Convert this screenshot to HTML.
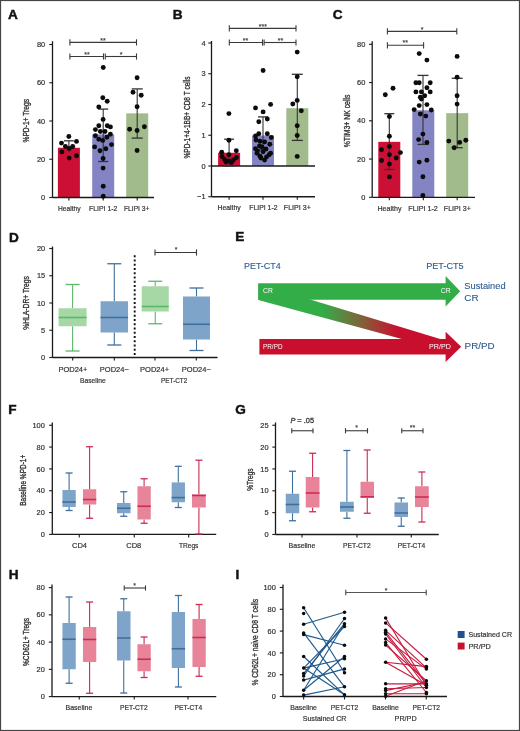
<!DOCTYPE html><html><head><meta charset="utf-8"><style>html,body{margin:0;padding:0;background:#fff;}svg{display:block;will-change:transform;filter:blur(0.3px);}</style></head><body>
<svg width="520" height="731" viewBox="0 0 520 731" font-family='"Liberation Sans", sans-serif'>
<rect x="0" y="0" width="520" height="731" fill="#fff"/>
<text x="8" y="18.8" font-size="13.6" font-weight="bold" fill="#111" stroke="#111" stroke-width="0.45">A</text>
<line x1="52.5" y1="41.2" x2="52.5" y2="197.5" stroke="#1a1a1a" stroke-width="1.3" />
<line x1="49.3" y1="197.5" x2="52.5" y2="197.5" stroke="#1a1a1a" stroke-width="1.1" />
<text x="45.2" y="200.1" font-size="7.4" text-anchor="end" fill="#333" font-weight="normal" stroke="#333" stroke-width="0.2" >0</text>
<line x1="49.3" y1="159.25" x2="52.5" y2="159.25" stroke="#1a1a1a" stroke-width="1.1" />
<text x="45.2" y="161.85" font-size="7.4" text-anchor="end" fill="#333" font-weight="normal" stroke="#333" stroke-width="0.2" >20</text>
<line x1="49.3" y1="121.0" x2="52.5" y2="121.0" stroke="#1a1a1a" stroke-width="1.1" />
<text x="45.2" y="123.6" font-size="7.4" text-anchor="end" fill="#333" font-weight="normal" stroke="#333" stroke-width="0.2" >40</text>
<line x1="49.3" y1="82.75" x2="52.5" y2="82.75" stroke="#1a1a1a" stroke-width="1.1" />
<text x="45.2" y="85.35" font-size="7.4" text-anchor="end" fill="#333" font-weight="normal" stroke="#333" stroke-width="0.2" >60</text>
<line x1="49.3" y1="44.5" x2="52.5" y2="44.5" stroke="#1a1a1a" stroke-width="1.1" />
<text x="45.2" y="47.1" font-size="7.4" text-anchor="end" fill="#333" font-weight="normal" stroke="#333" stroke-width="0.2" >80</text>
<rect x="57.900000000000006" y="147.775" width="22.00" height="49.72" fill="#cc0f35" />
<rect x="92.2" y="134.3875" width="22.00" height="63.11" fill="#8484c4" />
<rect x="126.19999999999999" y="113.35" width="22.00" height="84.15" fill="#a2bb8c" />
<line x1="52.5" y1="197.5" x2="154" y2="197.5" stroke="#1a1a1a" stroke-width="1.3" />
<line x1="68.9" y1="197.5" x2="68.9" y2="200.5" stroke="#1a1a1a" stroke-width="1.1" />
<line x1="103.2" y1="197.5" x2="103.2" y2="200.5" stroke="#1a1a1a" stroke-width="1.1" />
<line x1="137.2" y1="197.5" x2="137.2" y2="200.5" stroke="#1a1a1a" stroke-width="1.1" />
<line x1="68.9" y1="140.8" x2="68.9" y2="152" stroke="#333" stroke-width="1.1" />
<line x1="64" y1="140.8" x2="73.8" y2="140.8" stroke="#333" stroke-width="1.3" />
<line x1="103.2" y1="109.1" x2="103.2" y2="161.5" stroke="#333" stroke-width="1.1" />
<line x1="98.2" y1="109.1" x2="108.2" y2="109.1" stroke="#333" stroke-width="1.3" />
<line x1="98.2" y1="161.5" x2="108.2" y2="161.5" stroke="#333" stroke-width="1.3" />
<line x1="137.2" y1="88.9" x2="137.2" y2="138.1" stroke="#333" stroke-width="1.1" />
<line x1="131.7" y1="88.9" x2="142.7" y2="88.9" stroke="#333" stroke-width="1.3" />
<line x1="131.7" y1="138.1" x2="142.7" y2="138.1" stroke="#333" stroke-width="1.3" />
<circle cx="68.85" cy="136.5" r="2.45" fill="#0b0b0b"/>
<circle cx="61.5" cy="143.1" r="2.45" fill="#0b0b0b"/>
<circle cx="76.5" cy="141.4" r="2.45" fill="#0b0b0b"/>
<circle cx="65.4" cy="146.5" r="2.45" fill="#0b0b0b"/>
<circle cx="72.7" cy="146.5" r="2.45" fill="#0b0b0b"/>
<circle cx="69.2" cy="148.5" r="2.45" fill="#0b0b0b"/>
<circle cx="61.9" cy="151.9" r="2.45" fill="#0b0b0b"/>
<circle cx="76.5" cy="155.8" r="2.45" fill="#0b0b0b"/>
<circle cx="69.2" cy="158.1" r="2.45" fill="#0b0b0b"/>
<circle cx="103.25" cy="67.5" r="2.45" fill="#0b0b0b"/>
<circle cx="102.8" cy="97.8" r="2.45" fill="#0b0b0b"/>
<circle cx="107.2" cy="101.2" r="2.45" fill="#0b0b0b"/>
<circle cx="98.8" cy="106.9" r="2.45" fill="#0b0b0b"/>
<circle cx="103.1" cy="119.4" r="2.45" fill="#0b0b0b"/>
<circle cx="98.8" cy="125.8" r="2.45" fill="#0b0b0b"/>
<circle cx="107.3" cy="125.8" r="2.45" fill="#0b0b0b"/>
<circle cx="110.4" cy="126.9" r="2.45" fill="#0b0b0b"/>
<circle cx="95.4" cy="129.6" r="2.45" fill="#0b0b0b"/>
<circle cx="100.4" cy="131.5" r="2.45" fill="#0b0b0b"/>
<circle cx="105" cy="131.5" r="2.45" fill="#0b0b0b"/>
<circle cx="95.4" cy="135.8" r="2.45" fill="#0b0b0b"/>
<circle cx="110.4" cy="134.2" r="2.45" fill="#0b0b0b"/>
<circle cx="106.9" cy="137.3" r="2.45" fill="#0b0b0b"/>
<circle cx="98.8" cy="139.2" r="2.45" fill="#0b0b0b"/>
<circle cx="102.7" cy="140.4" r="2.45" fill="#0b0b0b"/>
<circle cx="111.5" cy="144.6" r="2.45" fill="#0b0b0b"/>
<circle cx="94.6" cy="146.9" r="2.45" fill="#0b0b0b"/>
<circle cx="105.8" cy="148.8" r="2.45" fill="#0b0b0b"/>
<circle cx="100" cy="150.8" r="2.45" fill="#0b0b0b"/>
<circle cx="103.1" cy="158.5" r="2.45" fill="#0b0b0b"/>
<circle cx="103.1" cy="168.1" r="2.45" fill="#0b0b0b"/>
<circle cx="103.25" cy="186.25" r="2.45" fill="#0b0b0b"/>
<circle cx="103.25" cy="196.25" r="2.45" fill="#0b0b0b"/>
<circle cx="137.1" cy="77.8" r="2.45" fill="#0b0b0b"/>
<circle cx="133" cy="92.2" r="2.45" fill="#0b0b0b"/>
<circle cx="141.2" cy="95.3" r="2.45" fill="#0b0b0b"/>
<circle cx="137.1" cy="106.7" r="2.45" fill="#0b0b0b"/>
<circle cx="129.6" cy="129.2" r="2.45" fill="#0b0b0b"/>
<circle cx="137.1" cy="130.5" r="2.45" fill="#0b0b0b"/>
<circle cx="144.4" cy="126.8" r="2.45" fill="#0b0b0b"/>
<circle cx="137.1" cy="150.5" r="2.45" fill="#0b0b0b"/>
<line x1="69.9" y1="42.4" x2="136.5" y2="42.4" stroke="#3a3a3a" stroke-width="1.1" />
<line x1="69.9" y1="39.3" x2="69.9" y2="45.5" stroke="#3a3a3a" stroke-width="1.1" />
<line x1="136.5" y1="39.3" x2="136.5" y2="45.5" stroke="#3a3a3a" stroke-width="1.1" />
<text x="103.1" y="42.9" font-size="7" text-anchor="middle" fill="#333" font-weight="normal" stroke="#333" stroke-width="0.1" >**</text>
<line x1="69.9" y1="56.5" x2="103.5" y2="56.5" stroke="#3a3a3a" stroke-width="1.1" />
<line x1="69.9" y1="53.4" x2="69.9" y2="59.6" stroke="#3a3a3a" stroke-width="1.1" />
<line x1="103.5" y1="53.4" x2="103.5" y2="59.6" stroke="#3a3a3a" stroke-width="1.1" />
<line x1="105.3" y1="56.5" x2="136.5" y2="56.5" stroke="#3a3a3a" stroke-width="1.1" />
<line x1="105.3" y1="53.4" x2="105.3" y2="59.6" stroke="#3a3a3a" stroke-width="1.1" />
<line x1="136.5" y1="53.4" x2="136.5" y2="59.6" stroke="#3a3a3a" stroke-width="1.1" />
<text x="86.9" y="56.5" font-size="7" text-anchor="middle" fill="#333" font-weight="normal" stroke="#333" stroke-width="0.1" >**</text>
<text x="121.2" y="56.7" font-size="7" text-anchor="middle" fill="#333" font-weight="normal" stroke="#333" stroke-width="0.1" >*</text>
<text x="69.3" y="210.9" font-size="7.4" text-anchor="middle" fill="#333" font-weight="normal" textLength="22.7" lengthAdjust="spacingAndGlyphs" stroke="#333" stroke-width="0.2" >Healthy</text>
<text x="103.2" y="210.9" font-size="7.4" text-anchor="middle" fill="#333" font-weight="normal" textLength="28.2" lengthAdjust="spacingAndGlyphs" stroke="#333" stroke-width="0.2" >FLIPI 1-2</text>
<text x="136.7" y="210.9" font-size="7.4" text-anchor="middle" fill="#333" font-weight="normal" textLength="25.4" lengthAdjust="spacingAndGlyphs" stroke="#333" stroke-width="0.2" >FLIPI 3+</text>
<text transform="translate(26.2,120.75) rotate(-90)" x="0" y="0" font-size="8.7" text-anchor="middle" dominant-baseline="central" fill="#333" stroke="#333" stroke-width="0.35" textLength="43.5" lengthAdjust="spacingAndGlyphs">%PD-1+ Tregs</text>
<text x="172.8" y="18.8" font-size="13.6" font-weight="bold" fill="#111" stroke="#111" stroke-width="0.45">B</text>
<line x1="211.5" y1="41" x2="211.5" y2="196.75" stroke="#1a1a1a" stroke-width="1.3" />
<line x1="208.3" y1="43.0" x2="211.5" y2="43.0" stroke="#1a1a1a" stroke-width="1.1" />
<text x="205.5" y="45.6" font-size="7.4" text-anchor="end" fill="#333" font-weight="normal" stroke="#333" stroke-width="0.2" >4</text>
<line x1="208.3" y1="73.75" x2="211.5" y2="73.75" stroke="#1a1a1a" stroke-width="1.1" />
<text x="205.5" y="76.35" font-size="7.4" text-anchor="end" fill="#333" font-weight="normal" stroke="#333" stroke-width="0.2" >3</text>
<line x1="208.3" y1="104.5" x2="211.5" y2="104.5" stroke="#1a1a1a" stroke-width="1.1" />
<text x="205.5" y="107.1" font-size="7.4" text-anchor="end" fill="#333" font-weight="normal" stroke="#333" stroke-width="0.2" >2</text>
<line x1="208.3" y1="135.25" x2="211.5" y2="135.25" stroke="#1a1a1a" stroke-width="1.1" />
<text x="205.5" y="137.85" font-size="7.4" text-anchor="end" fill="#333" font-weight="normal" stroke="#333" stroke-width="0.2" >1</text>
<line x1="208.3" y1="166.0" x2="211.5" y2="166.0" stroke="#1a1a1a" stroke-width="1.1" />
<text x="205.5" y="168.6" font-size="7.4" text-anchor="end" fill="#333" font-weight="normal" stroke="#333" stroke-width="0.2" >0</text>
<line x1="208.3" y1="196.75" x2="211.5" y2="196.75" stroke="#1a1a1a" stroke-width="1.1" />
<text x="205.5" y="199.35" font-size="7.4" text-anchor="end" fill="#333" font-weight="normal" stroke="#333" stroke-width="0.2" >−1</text>
<rect x="218.1" y="152.7775" width="22.00" height="13.22" fill="#cc0f35" />
<rect x="252.0" y="135.5575" width="22.00" height="30.44" fill="#8484c4" />
<rect x="286.3" y="108.19" width="22.00" height="57.81" fill="#a2bb8c" />
<line x1="211.5" y1="166" x2="315" y2="166" stroke="#1a1a1a" stroke-width="1.4" />
<line x1="211.5" y1="196.75" x2="315" y2="196.75" stroke="#1a1a1a" stroke-width="1.3" />
<line x1="229.1" y1="196.75" x2="229.1" y2="199.75" stroke="#1a1a1a" stroke-width="1.1" />
<line x1="263.0" y1="196.75" x2="263.0" y2="199.75" stroke="#1a1a1a" stroke-width="1.1" />
<line x1="297.3" y1="196.75" x2="297.3" y2="199.75" stroke="#1a1a1a" stroke-width="1.1" />
<line x1="229.1" y1="139.2" x2="229.1" y2="166" stroke="#333" stroke-width="1.1" />
<line x1="224.1" y1="139.2" x2="234.1" y2="139.2" stroke="#333" stroke-width="1.3" />
<line x1="224.1" y1="166" x2="234.1" y2="166" stroke="#333" stroke-width="1.3" />
<line x1="263.0" y1="116.9" x2="263.0" y2="150" stroke="#333" stroke-width="1.1" />
<line x1="258.0" y1="116.9" x2="268.0" y2="116.9" stroke="#333" stroke-width="1.3" />
<line x1="258.0" y1="150" x2="268.0" y2="150" stroke="#333" stroke-width="1.3" />
<line x1="297.3" y1="74.3" x2="297.3" y2="140.4" stroke="#333" stroke-width="1.1" />
<line x1="291.8" y1="74.3" x2="302.8" y2="74.3" stroke="#333" stroke-width="1.3" />
<line x1="291.8" y1="140.4" x2="302.8" y2="140.4" stroke="#333" stroke-width="1.3" />
<circle cx="228.9" cy="113.6" r="2.45" fill="#0b0b0b"/>
<circle cx="228.9" cy="140.2" r="2.45" fill="#0b0b0b"/>
<circle cx="221.7" cy="152.2" r="2.45" fill="#0b0b0b"/>
<circle cx="236.3" cy="150.7" r="2.45" fill="#0b0b0b"/>
<circle cx="228.9" cy="154.7" r="2.45" fill="#0b0b0b"/>
<circle cx="222" cy="156.5" r="2.45" fill="#0b0b0b"/>
<circle cx="224.5" cy="159.5" r="2.45" fill="#0b0b0b"/>
<circle cx="228.9" cy="161" r="2.45" fill="#0b0b0b"/>
<circle cx="233.5" cy="160" r="2.45" fill="#0b0b0b"/>
<circle cx="236.5" cy="157.5" r="2.45" fill="#0b0b0b"/>
<circle cx="226" cy="162" r="2.45" fill="#0b0b0b"/>
<circle cx="231.5" cy="162.5" r="2.45" fill="#0b0b0b"/>
<circle cx="263.1" cy="70.5" r="2.45" fill="#0b0b0b"/>
<circle cx="255.5" cy="107.9" r="2.45" fill="#0b0b0b"/>
<circle cx="270.6" cy="104.4" r="2.45" fill="#0b0b0b"/>
<circle cx="263.1" cy="111.9" r="2.45" fill="#0b0b0b"/>
<circle cx="258.8" cy="121.7" r="2.45" fill="#0b0b0b"/>
<circle cx="267.3" cy="119" r="2.45" fill="#0b0b0b"/>
<circle cx="258.8" cy="133.7" r="2.45" fill="#0b0b0b"/>
<circle cx="267.3" cy="133.7" r="2.45" fill="#0b0b0b"/>
<circle cx="255.5" cy="136" r="2.45" fill="#0b0b0b"/>
<circle cx="271.3" cy="137.5" r="2.45" fill="#0b0b0b"/>
<circle cx="260" cy="141.3" r="2.45" fill="#0b0b0b"/>
<circle cx="264.6" cy="142" r="2.45" fill="#0b0b0b"/>
<circle cx="269.8" cy="144.3" r="2.45" fill="#0b0b0b"/>
<circle cx="255.5" cy="148.8" r="2.45" fill="#0b0b0b"/>
<circle cx="257" cy="153.3" r="2.45" fill="#0b0b0b"/>
<circle cx="263.1" cy="151.8" r="2.45" fill="#0b0b0b"/>
<circle cx="269.1" cy="154.8" r="2.45" fill="#0b0b0b"/>
<circle cx="260" cy="156.3" r="2.45" fill="#0b0b0b"/>
<circle cx="264.6" cy="160.1" r="2.45" fill="#0b0b0b"/>
<circle cx="270.6" cy="153.3" r="2.45" fill="#0b0b0b"/>
<circle cx="262" cy="147" r="2.45" fill="#0b0b0b"/>
<circle cx="256" cy="140" r="2.45" fill="#0b0b0b"/>
<circle cx="259.5" cy="146" r="2.45" fill="#0b0b0b"/>
<circle cx="266" cy="149" r="2.45" fill="#0b0b0b"/>
<circle cx="261" cy="158" r="2.45" fill="#0b0b0b"/>
<circle cx="266.5" cy="157" r="2.45" fill="#0b0b0b"/>
<circle cx="257.5" cy="151" r="2.45" fill="#0b0b0b"/>
<circle cx="297.2" cy="52.1" r="2.45" fill="#0b0b0b"/>
<circle cx="297.2" cy="76.8" r="2.45" fill="#0b0b0b"/>
<circle cx="297.2" cy="100.4" r="2.45" fill="#0b0b0b"/>
<circle cx="292.8" cy="104" r="2.45" fill="#0b0b0b"/>
<circle cx="301.3" cy="110.8" r="2.45" fill="#0b0b0b"/>
<circle cx="297.2" cy="125.7" r="2.45" fill="#0b0b0b"/>
<circle cx="297.2" cy="135.5" r="2.45" fill="#0b0b0b"/>
<circle cx="297.2" cy="156.4" r="2.45" fill="#0b0b0b"/>
<line x1="229.3" y1="28.4" x2="296" y2="28.4" stroke="#3a3a3a" stroke-width="1.1" />
<line x1="229.3" y1="25.299999999999997" x2="229.3" y2="31.5" stroke="#3a3a3a" stroke-width="1.1" />
<line x1="296" y1="25.299999999999997" x2="296" y2="31.5" stroke="#3a3a3a" stroke-width="1.1" />
<text x="262.9" y="28.9" font-size="7" text-anchor="middle" fill="#333" font-weight="normal" stroke="#333" stroke-width="0.1" >***</text>
<line x1="229.3" y1="42.5" x2="262.5" y2="42.5" stroke="#3a3a3a" stroke-width="1.1" />
<line x1="229.3" y1="39.4" x2="229.3" y2="45.6" stroke="#3a3a3a" stroke-width="1.1" />
<line x1="262.5" y1="39.4" x2="262.5" y2="45.6" stroke="#3a3a3a" stroke-width="1.1" />
<line x1="264.1" y1="42.5" x2="296" y2="42.5" stroke="#3a3a3a" stroke-width="1.1" />
<line x1="264.1" y1="39.4" x2="264.1" y2="45.6" stroke="#3a3a3a" stroke-width="1.1" />
<line x1="296" y1="39.4" x2="296" y2="45.6" stroke="#3a3a3a" stroke-width="1.1" />
<text x="245.5" y="42.800000000000004" font-size="7" text-anchor="middle" fill="#333" font-weight="normal" stroke="#333" stroke-width="0.1" >**</text>
<text x="280.5" y="42.800000000000004" font-size="7" text-anchor="middle" fill="#333" font-weight="normal" stroke="#333" stroke-width="0.1" >**</text>
<text x="229.1" y="210.2" font-size="7.4" text-anchor="middle" fill="#333" font-weight="normal" textLength="23.2" lengthAdjust="spacingAndGlyphs" stroke="#333" stroke-width="0.2" >Healthy</text>
<text x="263.4" y="210.2" font-size="7.4" text-anchor="middle" fill="#333" font-weight="normal" textLength="28.2" lengthAdjust="spacingAndGlyphs" stroke="#333" stroke-width="0.2" >FLIPI 1-2</text>
<text x="297.3" y="210.2" font-size="7.4" text-anchor="middle" fill="#333" font-weight="normal" textLength="27" lengthAdjust="spacingAndGlyphs" stroke="#333" stroke-width="0.2" >FLIPI 3+</text>
<text transform="translate(186.8,117.5) rotate(-90)" x="0" y="0" font-size="9.5" text-anchor="middle" dominant-baseline="central" fill="#333" stroke="#333" stroke-width="0.35" textLength="82" lengthAdjust="spacingAndGlyphs">%PD-1+4-1BB+ CD8 T cells</text>
<text x="332.8" y="18.8" font-size="13.6" font-weight="bold" fill="#111" stroke="#111" stroke-width="0.45">C</text>
<line x1="372.2" y1="41.2" x2="372.2" y2="197.3" stroke="#1a1a1a" stroke-width="1.3" />
<line x1="369.0" y1="197.3" x2="372.2" y2="197.3" stroke="#1a1a1a" stroke-width="1.1" />
<text x="365.3" y="199.9" font-size="7.4" text-anchor="end" fill="#333" font-weight="normal" stroke="#333" stroke-width="0.2" >0</text>
<line x1="369.0" y1="159.05" x2="372.2" y2="159.05" stroke="#1a1a1a" stroke-width="1.1" />
<text x="365.3" y="161.65" font-size="7.4" text-anchor="end" fill="#333" font-weight="normal" stroke="#333" stroke-width="0.2" >20</text>
<line x1="369.0" y1="120.80000000000001" x2="372.2" y2="120.80000000000001" stroke="#1a1a1a" stroke-width="1.1" />
<text x="365.3" y="123.4" font-size="7.4" text-anchor="end" fill="#333" font-weight="normal" stroke="#333" stroke-width="0.2" >40</text>
<line x1="369.0" y1="82.55000000000001" x2="372.2" y2="82.55000000000001" stroke="#1a1a1a" stroke-width="1.1" />
<text x="365.3" y="85.15" font-size="7.4" text-anchor="end" fill="#333" font-weight="normal" stroke="#333" stroke-width="0.2" >60</text>
<line x1="369.0" y1="44.30000000000001" x2="372.2" y2="44.30000000000001" stroke="#1a1a1a" stroke-width="1.1" />
<text x="365.3" y="46.90000000000001" font-size="7.4" text-anchor="end" fill="#333" font-weight="normal" stroke="#333" stroke-width="0.2" >80</text>
<rect x="378.3" y="141.8375" width="22.00" height="55.46" fill="#cc0f35" />
<rect x="412.3" y="110.28125000000001" width="22.00" height="87.02" fill="#8484c4" />
<rect x="446.2" y="113.15" width="22.00" height="84.15" fill="#a2bb8c" />
<line x1="372.2" y1="197.3" x2="475" y2="197.3" stroke="#1a1a1a" stroke-width="1.3" />
<line x1="389.3" y1="197.3" x2="389.3" y2="200.3" stroke="#1a1a1a" stroke-width="1.1" />
<line x1="423.3" y1="197.3" x2="423.3" y2="200.3" stroke="#1a1a1a" stroke-width="1.1" />
<line x1="457.2" y1="197.3" x2="457.2" y2="200.3" stroke="#1a1a1a" stroke-width="1.1" />
<line x1="389.3" y1="113.7" x2="389.3" y2="169.5" stroke="#333" stroke-width="1.1" />
<line x1="384.3" y1="113.7" x2="394.3" y2="113.7" stroke="#333" stroke-width="1.3" />
<line x1="384.3" y1="169.5" x2="394.3" y2="169.5" stroke="#333" stroke-width="1.3" />
<line x1="423.0" y1="75.4" x2="423.0" y2="144.4" stroke="#333" stroke-width="1.1" />
<line x1="417.5" y1="75.4" x2="428.5" y2="75.4" stroke="#333" stroke-width="1.3" />
<line x1="417.5" y1="144.4" x2="428.5" y2="144.4" stroke="#333" stroke-width="1.3" />
<line x1="457.2" y1="78.3" x2="457.2" y2="147.7" stroke="#333" stroke-width="1.1" />
<line x1="451.7" y1="78.3" x2="462.7" y2="78.3" stroke="#333" stroke-width="1.3" />
<line x1="451.7" y1="147.7" x2="462.7" y2="147.7" stroke="#333" stroke-width="1.3" />
<circle cx="393" cy="88.2" r="2.45" fill="#0b0b0b"/>
<circle cx="385.3" cy="94.8" r="2.45" fill="#0b0b0b"/>
<circle cx="389.4" cy="116.5" r="2.45" fill="#0b0b0b"/>
<circle cx="389.4" cy="136.2" r="2.45" fill="#0b0b0b"/>
<circle cx="389.4" cy="146.5" r="2.45" fill="#0b0b0b"/>
<circle cx="381.5" cy="149.8" r="2.45" fill="#0b0b0b"/>
<circle cx="400.4" cy="152.6" r="2.45" fill="#0b0b0b"/>
<circle cx="389.4" cy="154.7" r="2.45" fill="#0b0b0b"/>
<circle cx="396.3" cy="158" r="2.45" fill="#0b0b0b"/>
<circle cx="381.5" cy="160.5" r="2.45" fill="#0b0b0b"/>
<circle cx="389.4" cy="164.1" r="2.45" fill="#0b0b0b"/>
<circle cx="389.4" cy="176.9" r="2.45" fill="#0b0b0b"/>
<circle cx="419.2" cy="53.6" r="2.45" fill="#0b0b0b"/>
<circle cx="426.9" cy="60.1" r="2.45" fill="#0b0b0b"/>
<circle cx="415.9" cy="82.7" r="2.45" fill="#0b0b0b"/>
<circle cx="419.2" cy="82.7" r="2.45" fill="#0b0b0b"/>
<circle cx="430.2" cy="82.7" r="2.45" fill="#0b0b0b"/>
<circle cx="415.9" cy="91.9" r="2.45" fill="#0b0b0b"/>
<circle cx="421.4" cy="91.9" r="2.45" fill="#0b0b0b"/>
<circle cx="426.9" cy="87.7" r="2.45" fill="#0b0b0b"/>
<circle cx="430.2" cy="91.9" r="2.45" fill="#0b0b0b"/>
<circle cx="420.3" cy="97.3" r="2.45" fill="#0b0b0b"/>
<circle cx="424.7" cy="95.8" r="2.45" fill="#0b0b0b"/>
<circle cx="421.4" cy="99.1" r="2.45" fill="#0b0b0b"/>
<circle cx="426.9" cy="104.6" r="2.45" fill="#0b0b0b"/>
<circle cx="419.2" cy="105.6" r="2.45" fill="#0b0b0b"/>
<circle cx="414.2" cy="109.6" r="2.45" fill="#0b0b0b"/>
<circle cx="431.3" cy="110" r="2.45" fill="#0b0b0b"/>
<circle cx="420.3" cy="114" r="2.45" fill="#0b0b0b"/>
<circle cx="425.8" cy="116.1" r="2.45" fill="#0b0b0b"/>
<circle cx="422.9" cy="134.1" r="2.45" fill="#0b0b0b"/>
<circle cx="418.6" cy="139.6" r="2.45" fill="#0b0b0b"/>
<circle cx="426.9" cy="142.4" r="2.45" fill="#0b0b0b"/>
<circle cx="419.2" cy="162.1" r="2.45" fill="#0b0b0b"/>
<circle cx="426.9" cy="160.3" r="2.45" fill="#0b0b0b"/>
<circle cx="422.9" cy="176.8" r="2.45" fill="#0b0b0b"/>
<circle cx="422.9" cy="195.4" r="2.45" fill="#0b0b0b"/>
<circle cx="457.1" cy="56.4" r="2.45" fill="#0b0b0b"/>
<circle cx="457.1" cy="77.2" r="2.45" fill="#0b0b0b"/>
<circle cx="457.1" cy="95.8" r="2.45" fill="#0b0b0b"/>
<circle cx="457.1" cy="104.1" r="2.45" fill="#0b0b0b"/>
<circle cx="448.8" cy="141.1" r="2.45" fill="#0b0b0b"/>
<circle cx="454.2" cy="147.7" r="2.45" fill="#0b0b0b"/>
<circle cx="459.7" cy="142.4" r="2.45" fill="#0b0b0b"/>
<circle cx="465.8" cy="140.2" r="2.45" fill="#0b0b0b"/>
<line x1="387.4" y1="31.4" x2="456.8" y2="31.4" stroke="#3a3a3a" stroke-width="1.1" />
<line x1="387.4" y1="28.299999999999997" x2="387.4" y2="34.5" stroke="#3a3a3a" stroke-width="1.1" />
<line x1="456.8" y1="28.299999999999997" x2="456.8" y2="34.5" stroke="#3a3a3a" stroke-width="1.1" />
<text x="422.2" y="31.5" font-size="7" text-anchor="middle" fill="#333" font-weight="normal" stroke="#333" stroke-width="0.1" >*</text>
<line x1="387.4" y1="45.3" x2="423.6" y2="45.3" stroke="#3a3a3a" stroke-width="1.1" />
<line x1="387.4" y1="42.199999999999996" x2="387.4" y2="48.4" stroke="#3a3a3a" stroke-width="1.1" />
<line x1="423.6" y1="42.199999999999996" x2="423.6" y2="48.4" stroke="#3a3a3a" stroke-width="1.1" />
<text x="405.3" y="45.300000000000004" font-size="7" text-anchor="middle" fill="#333" font-weight="normal" stroke="#333" stroke-width="0.1" >**</text>
<text x="389.5" y="210.9" font-size="7.4" text-anchor="middle" fill="#333" font-weight="normal" textLength="24" lengthAdjust="spacingAndGlyphs" stroke="#333" stroke-width="0.2" >Healthy</text>
<text x="423.1" y="210.9" font-size="7.4" text-anchor="middle" fill="#333" font-weight="normal" textLength="29.5" lengthAdjust="spacingAndGlyphs" stroke="#333" stroke-width="0.2" >FLIPI 1-2</text>
<text x="457.3" y="210.9" font-size="7.4" text-anchor="middle" fill="#333" font-weight="normal" textLength="27" lengthAdjust="spacingAndGlyphs" stroke="#333" stroke-width="0.2" >FLIPI 3+</text>
<text transform="translate(347.0,121) rotate(-90)" x="0" y="0" font-size="8.6" text-anchor="middle" dominant-baseline="central" fill="#333" stroke="#333" stroke-width="0.35" textLength="52.7" lengthAdjust="spacingAndGlyphs">%TIM3+ NK cells</text>
<text x="9" y="242" font-size="13.6" font-weight="bold" fill="#111" stroke="#111" stroke-width="0.45">D</text>
<line x1="52.5" y1="246.5" x2="52.5" y2="357.5" stroke="#1a1a1a" stroke-width="1.3" />
<line x1="49.3" y1="357.5" x2="52.5" y2="357.5" stroke="#1a1a1a" stroke-width="1.1" />
<text x="45.2" y="360.1" font-size="7.4" text-anchor="end" fill="#333" font-weight="normal" stroke="#333" stroke-width="0.2" >0</text>
<line x1="49.3" y1="330.25" x2="52.5" y2="330.25" stroke="#1a1a1a" stroke-width="1.1" />
<text x="45.2" y="332.85" font-size="7.4" text-anchor="end" fill="#333" font-weight="normal" stroke="#333" stroke-width="0.2" >5</text>
<line x1="49.3" y1="303.0" x2="52.5" y2="303.0" stroke="#1a1a1a" stroke-width="1.1" />
<text x="45.2" y="305.6" font-size="7.4" text-anchor="end" fill="#333" font-weight="normal" stroke="#333" stroke-width="0.2" >10</text>
<line x1="49.3" y1="275.75" x2="52.5" y2="275.75" stroke="#1a1a1a" stroke-width="1.1" />
<text x="45.2" y="278.35" font-size="7.4" text-anchor="end" fill="#333" font-weight="normal" stroke="#333" stroke-width="0.2" >15</text>
<line x1="49.3" y1="248.5" x2="52.5" y2="248.5" stroke="#1a1a1a" stroke-width="1.1" />
<text x="45.2" y="251.1" font-size="7.4" text-anchor="end" fill="#333" font-weight="normal" stroke="#333" stroke-width="0.2" >20</text>
<line x1="52.5" y1="357.5" x2="217.5" y2="357.5" stroke="#1a1a1a" stroke-width="1.3" />
<line x1="72.7" y1="357.5" x2="72.7" y2="360.5" stroke="#1a1a1a" stroke-width="1.1" />
<line x1="114.3" y1="357.5" x2="114.3" y2="360.5" stroke="#1a1a1a" stroke-width="1.1" />
<line x1="155" y1="357.5" x2="155" y2="360.5" stroke="#1a1a1a" stroke-width="1.1" />
<line x1="196.3" y1="357.5" x2="196.3" y2="360.5" stroke="#1a1a1a" stroke-width="1.1" />
<line x1="72.6" y1="284.5" x2="72.6" y2="308.25" stroke="#5cb86a" stroke-width="1.1" />
<line x1="72.6" y1="326.25" x2="72.6" y2="351" stroke="#5cb86a" stroke-width="1.1" />
<line x1="65.6" y1="284.5" x2="79.6" y2="284.5" stroke="#5cb86a" stroke-width="1.3" />
<line x1="65.6" y1="351" x2="79.6" y2="351" stroke="#5cb86a" stroke-width="1.3" />
<rect x="58.599999999999994" y="308.25" width="28.00" height="18.00" fill="#a6d8a6" />
<line x1="58.599999999999994" y1="317.5" x2="86.6" y2="317.5" stroke="#5cb86a" stroke-width="1.6" />
<line x1="114.3" y1="263.75" x2="114.3" y2="301.25" stroke="#3f6f9d" stroke-width="1.1" />
<line x1="114.3" y1="332.5" x2="114.3" y2="345" stroke="#3f6f9d" stroke-width="1.1" />
<line x1="107.3" y1="263.75" x2="121.3" y2="263.75" stroke="#3f6f9d" stroke-width="1.3" />
<line x1="107.3" y1="345" x2="121.3" y2="345" stroke="#3f6f9d" stroke-width="1.3" />
<rect x="100.55" y="301.25" width="27.50" height="31.25" fill="#7ea4c9" />
<line x1="100.55" y1="317.5" x2="128.05" y2="317.5" stroke="#3f6f9d" stroke-width="1.6" />
<line x1="155.25" y1="281.25" x2="155.25" y2="286.25" stroke="#5cb86a" stroke-width="1.1" />
<line x1="155.25" y1="311.5" x2="155.25" y2="323.75" stroke="#5cb86a" stroke-width="1.1" />
<line x1="148.25" y1="281.25" x2="162.25" y2="281.25" stroke="#5cb86a" stroke-width="1.3" />
<line x1="148.25" y1="323.75" x2="162.25" y2="323.75" stroke="#5cb86a" stroke-width="1.3" />
<rect x="141.75" y="286.25" width="27.00" height="25.25" fill="#a6d8a6" />
<line x1="141.75" y1="306.5" x2="168.75" y2="306.5" stroke="#5cb86a" stroke-width="1.6" />
<line x1="196.5" y1="288" x2="196.5" y2="296.5" stroke="#3f6f9d" stroke-width="1.1" />
<line x1="196.5" y1="339.5" x2="196.5" y2="350.5" stroke="#3f6f9d" stroke-width="1.1" />
<line x1="189.5" y1="288" x2="203.5" y2="288" stroke="#3f6f9d" stroke-width="1.3" />
<line x1="189.5" y1="350.5" x2="203.5" y2="350.5" stroke="#3f6f9d" stroke-width="1.3" />
<rect x="183.0" y="296.5" width="27.00" height="43.00" fill="#7ea4c9" />
<line x1="183.0" y1="324.25" x2="210.0" y2="324.25" stroke="#3f6f9d" stroke-width="1.6" />
<line x1="134.7" y1="255.2" x2="134.7" y2="357" stroke="#111" stroke-width="1.9" stroke-dasharray="2 2.25"/>
<line x1="155" y1="252.5" x2="196.5" y2="252.5" stroke="#3a3a3a" stroke-width="1.1" />
<line x1="155" y1="249.4" x2="155" y2="255.6" stroke="#3a3a3a" stroke-width="1.1" />
<line x1="196.5" y1="249.4" x2="196.5" y2="255.6" stroke="#3a3a3a" stroke-width="1.1" />
<text x="176" y="252.4" font-size="7" text-anchor="middle" fill="#333" font-weight="normal" stroke="#333" stroke-width="0.1" >*</text>
<text x="72.9" y="372.3" font-size="7.6" text-anchor="middle" fill="#333" font-weight="normal" textLength="29" lengthAdjust="spacingAndGlyphs" stroke="#333" stroke-width="0.2" >POD24+</text>
<text x="114.3" y="372.3" font-size="7.6" text-anchor="middle" fill="#333" font-weight="normal" textLength="29" lengthAdjust="spacingAndGlyphs" stroke="#333" stroke-width="0.2" >POD24−</text>
<text x="154.6" y="372.3" font-size="7.6" text-anchor="middle" fill="#333" font-weight="normal" textLength="29" lengthAdjust="spacingAndGlyphs" stroke="#333" stroke-width="0.2" >POD24+</text>
<text x="196.3" y="372.3" font-size="7.6" text-anchor="middle" fill="#333" font-weight="normal" textLength="29" lengthAdjust="spacingAndGlyphs" stroke="#333" stroke-width="0.2" >POD24−</text>
<text x="92.8" y="383" font-size="7.4" text-anchor="middle" fill="#333" font-weight="normal" textLength="25.6" lengthAdjust="spacingAndGlyphs" stroke="#333" stroke-width="0.2" >Baseline</text>
<text x="174.2" y="383" font-size="7.4" text-anchor="middle" fill="#333" font-weight="normal" textLength="26.2" lengthAdjust="spacingAndGlyphs" stroke="#333" stroke-width="0.2" >PET-CT2</text>
<text transform="translate(26.1,302.9) rotate(-90)" x="0" y="0" font-size="8.7" text-anchor="middle" dominant-baseline="central" fill="#333" stroke="#333" stroke-width="0.35" textLength="53.7" lengthAdjust="spacingAndGlyphs">%HLA-DR+ Tregs</text>
<text x="235.3" y="241" font-size="13.6" font-weight="bold" fill="#111" stroke="#111" stroke-width="0.45">E</text>
<defs><linearGradient id="gdiag" x1="258" y1="0" x2="446" y2="0" gradientUnits="userSpaceOnUse"><stop offset="0" stop-color="#32ad48"/><stop offset="0.34" stop-color="#32ad48"/><stop offset="0.53" stop-color="#7a6a3a"/><stop offset="0.74" stop-color="#c8102e"/><stop offset="1" stop-color="#c8102e"/></linearGradient></defs>
<polygon points="258.3,283.7 258.3,299.9 446,351 446,340.8" fill="url(#gdiag)"/>
<polygon points="258.3,283.3 445.6,283.3 445.6,276 460.2,291.3 445.6,306.4 445.6,299.7 258.3,299.7" fill="#32ad48"/>
<polygon points="259.4,339 445.6,339 445.6,331.7 461.2,346.8 445.6,361.9 445.6,354.5 259.4,354.5" fill="#c8102e"/>
<text x="244" y="269.1" font-size="8.8" text-anchor="start" fill="#2d5c92" font-weight="normal" textLength="36.7" lengthAdjust="spacingAndGlyphs" stroke="#2d5c92" stroke-width="0.12" >PET-CT4</text>
<text x="426.2" y="269.1" font-size="8.8" text-anchor="start" fill="#2d5c92" font-weight="normal" textLength="37.5" lengthAdjust="spacingAndGlyphs" stroke="#2d5c92" stroke-width="0.12" >PET-CT5</text>
<text x="464.3" y="289.4" font-size="9.9" text-anchor="start" fill="#2d5c92" font-weight="normal" textLength="41.3" lengthAdjust="spacingAndGlyphs" stroke="#2d5c92" stroke-width="0.12" >Sustained</text>
<text x="464.3" y="301.2" font-size="9.9" text-anchor="start" fill="#2d5c92" font-weight="normal" stroke="#2d5c92" stroke-width="0.12" >CR</text>
<text x="464.6" y="348.6" font-size="9.6" text-anchor="start" fill="#2d5c92" font-weight="normal" textLength="30" lengthAdjust="spacingAndGlyphs" stroke="#2d5c92" stroke-width="0.12" >PR/PD</text>
<text x="263" y="293.4" font-size="6.8" text-anchor="start" fill="#fff" font-weight="normal" >CR</text>
<text x="440.8" y="293.4" font-size="6.8" text-anchor="start" fill="#fff" font-weight="normal" >CR</text>
<text x="263" y="349.2" font-size="6.8" text-anchor="start" fill="#fff" font-weight="normal" textLength="19.5" lengthAdjust="spacingAndGlyphs" >PR/PD</text>
<text x="429" y="349.2" font-size="6.8" text-anchor="start" fill="#fff" font-weight="normal" textLength="22" lengthAdjust="spacingAndGlyphs" >PR/PD</text>
<text x="8.2" y="413.6" font-size="13.6" font-weight="bold" fill="#111" stroke="#111" stroke-width="0.45">F</text>
<line x1="52.3" y1="422.5" x2="52.3" y2="534.4" stroke="#1a1a1a" stroke-width="1.3" />
<line x1="49.099999999999994" y1="534.4" x2="52.3" y2="534.4" stroke="#1a1a1a" stroke-width="1.1" />
<text x="44.8" y="537.0" font-size="7.4" text-anchor="end" fill="#333" font-weight="normal" stroke="#333" stroke-width="0.2" >0</text>
<line x1="49.099999999999994" y1="512.5699999999999" x2="52.3" y2="512.5699999999999" stroke="#1a1a1a" stroke-width="1.1" />
<text x="44.8" y="515.17" font-size="7.4" text-anchor="end" fill="#333" font-weight="normal" stroke="#333" stroke-width="0.2" >20</text>
<line x1="49.099999999999994" y1="490.74" x2="52.3" y2="490.74" stroke="#1a1a1a" stroke-width="1.1" />
<text x="44.8" y="493.34000000000003" font-size="7.4" text-anchor="end" fill="#333" font-weight="normal" stroke="#333" stroke-width="0.2" >40</text>
<line x1="49.099999999999994" y1="468.90999999999997" x2="52.3" y2="468.90999999999997" stroke="#1a1a1a" stroke-width="1.1" />
<text x="44.8" y="471.51" font-size="7.4" text-anchor="end" fill="#333" font-weight="normal" stroke="#333" stroke-width="0.2" >60</text>
<line x1="49.099999999999994" y1="447.08" x2="52.3" y2="447.08" stroke="#1a1a1a" stroke-width="1.1" />
<text x="44.8" y="449.68" font-size="7.4" text-anchor="end" fill="#333" font-weight="normal" stroke="#333" stroke-width="0.2" >80</text>
<line x1="49.099999999999994" y1="425.25" x2="52.3" y2="425.25" stroke="#1a1a1a" stroke-width="1.1" />
<text x="44.8" y="427.85" font-size="7.4" text-anchor="end" fill="#333" font-weight="normal" stroke="#333" stroke-width="0.2" >100</text>
<line x1="52.3" y1="534.4" x2="216.2" y2="534.4" stroke="#1a1a1a" stroke-width="1.3" />
<line x1="79.25" y1="534.4" x2="79.25" y2="537.4" stroke="#1a1a1a" stroke-width="1.1" />
<line x1="134.25" y1="534.4" x2="134.25" y2="537.4" stroke="#1a1a1a" stroke-width="1.1" />
<line x1="188.7" y1="534.4" x2="188.7" y2="537.4" stroke="#1a1a1a" stroke-width="1.1" />
<line x1="69.1" y1="473" x2="69.1" y2="490" stroke="#3f6f9d" stroke-width="1.1" />
<line x1="69.1" y1="507" x2="69.1" y2="510.5" stroke="#3f6f9d" stroke-width="1.1" />
<line x1="65.6" y1="473" x2="72.6" y2="473" stroke="#3f6f9d" stroke-width="1.3" />
<line x1="65.6" y1="510.5" x2="72.6" y2="510.5" stroke="#3f6f9d" stroke-width="1.3" />
<rect x="62.449999999999996" y="490" width="13.30" height="17.00" fill="#7ea4c9" />
<line x1="62.449999999999996" y1="502" x2="75.75" y2="502" stroke="#3f6f9d" stroke-width="1.6" />
<line x1="89.6" y1="446.75" x2="89.6" y2="489.25" stroke="#cb2c52" stroke-width="1.1" />
<line x1="89.6" y1="504.5" x2="89.6" y2="518.25" stroke="#cb2c52" stroke-width="1.1" />
<line x1="86.1" y1="446.75" x2="93.1" y2="446.75" stroke="#cb2c52" stroke-width="1.3" />
<line x1="86.1" y1="518.25" x2="93.1" y2="518.25" stroke="#cb2c52" stroke-width="1.3" />
<rect x="82.94999999999999" y="489.25" width="13.30" height="15.25" fill="#e8849a" />
<line x1="82.94999999999999" y1="499.5" x2="96.25" y2="499.5" stroke="#cb2c52" stroke-width="1.6" />
<line x1="123.75" y1="491.75" x2="123.75" y2="503" stroke="#3f6f9d" stroke-width="1.1" />
<line x1="123.75" y1="513.25" x2="123.75" y2="516.25" stroke="#3f6f9d" stroke-width="1.1" />
<line x1="120.25" y1="491.75" x2="127.25" y2="491.75" stroke="#3f6f9d" stroke-width="1.3" />
<line x1="120.25" y1="516.25" x2="127.25" y2="516.25" stroke="#3f6f9d" stroke-width="1.3" />
<rect x="117.0" y="503" width="13.50" height="10.25" fill="#7ea4c9" />
<line x1="117.0" y1="508.25" x2="130.5" y2="508.25" stroke="#3f6f9d" stroke-width="1.6" />
<line x1="144.1" y1="478.75" x2="144.1" y2="486.25" stroke="#cb2c52" stroke-width="1.1" />
<line x1="144.1" y1="519.5" x2="144.1" y2="523.25" stroke="#cb2c52" stroke-width="1.1" />
<line x1="140.6" y1="478.75" x2="147.6" y2="478.75" stroke="#cb2c52" stroke-width="1.3" />
<line x1="140.6" y1="523.25" x2="147.6" y2="523.25" stroke="#cb2c52" stroke-width="1.3" />
<rect x="137.45" y="486.25" width="13.30" height="33.25" fill="#e8849a" />
<line x1="137.45" y1="506.25" x2="150.75" y2="506.25" stroke="#cb2c52" stroke-width="1.6" />
<line x1="178.3" y1="466.3" x2="178.3" y2="482.4" stroke="#3f6f9d" stroke-width="1.1" />
<line x1="178.3" y1="502.25" x2="178.3" y2="507.5" stroke="#3f6f9d" stroke-width="1.1" />
<line x1="174.8" y1="466.3" x2="181.8" y2="466.3" stroke="#3f6f9d" stroke-width="1.3" />
<line x1="174.8" y1="507.5" x2="181.8" y2="507.5" stroke="#3f6f9d" stroke-width="1.3" />
<rect x="171.65" y="482.4" width="13.30" height="19.85" fill="#7ea4c9" />
<line x1="171.65" y1="497.6" x2="184.95000000000002" y2="497.6" stroke="#3f6f9d" stroke-width="1.6" />
<line x1="198.9" y1="460.2" x2="198.9" y2="494.4" stroke="#cb2c52" stroke-width="1.1" />
<line x1="198.9" y1="507.5" x2="198.9" y2="534" stroke="#cb2c52" stroke-width="1.1" />
<line x1="195.4" y1="460.2" x2="202.4" y2="460.2" stroke="#cb2c52" stroke-width="1.3" />
<line x1="195.4" y1="534" x2="202.4" y2="534" stroke="#cb2c52" stroke-width="1.3" />
<rect x="192.0" y="494.4" width="13.80" height="13.10" fill="#e8849a" />
<line x1="192.0" y1="495.5" x2="205.8" y2="495.5" stroke="#cb2c52" stroke-width="1.6" />
<text x="79.5" y="548" font-size="7.4" text-anchor="middle" fill="#333" font-weight="normal" textLength="15" lengthAdjust="spacingAndGlyphs" stroke="#333" stroke-width="0.2" >CD4</text>
<text x="133.75" y="548" font-size="7.4" text-anchor="middle" fill="#333" font-weight="normal" textLength="15" lengthAdjust="spacingAndGlyphs" stroke="#333" stroke-width="0.2" >CD8</text>
<text x="188.7" y="548" font-size="7.4" text-anchor="middle" fill="#333" font-weight="normal" textLength="19.5" lengthAdjust="spacingAndGlyphs" stroke="#333" stroke-width="0.2" >TRegs</text>
<text transform="translate(23.1,480.3) rotate(-90)" x="0" y="0" font-size="8.4" text-anchor="middle" dominant-baseline="central" fill="#333" stroke="#333" stroke-width="0.35" textLength="51" lengthAdjust="spacingAndGlyphs">Baseline %PD-1+</text>
<text x="235.2" y="413.8" font-size="13.6" font-weight="bold" fill="#111" stroke="#111" stroke-width="0.45">G</text>
<line x1="275.5" y1="422.5" x2="275.5" y2="534.5" stroke="#1a1a1a" stroke-width="1.3" />
<line x1="272.3" y1="534.5" x2="275.5" y2="534.5" stroke="#1a1a1a" stroke-width="1.1" />
<text x="268.5" y="537.1" font-size="7.4" text-anchor="end" fill="#333" font-weight="normal" stroke="#333" stroke-width="0.2" >0</text>
<line x1="272.3" y1="512.65" x2="275.5" y2="512.65" stroke="#1a1a1a" stroke-width="1.1" />
<text x="268.5" y="515.25" font-size="7.4" text-anchor="end" fill="#333" font-weight="normal" stroke="#333" stroke-width="0.2" >5</text>
<line x1="272.3" y1="490.8" x2="275.5" y2="490.8" stroke="#1a1a1a" stroke-width="1.1" />
<text x="268.5" y="493.40000000000003" font-size="7.4" text-anchor="end" fill="#333" font-weight="normal" stroke="#333" stroke-width="0.2" >10</text>
<line x1="272.3" y1="468.95" x2="275.5" y2="468.95" stroke="#1a1a1a" stroke-width="1.1" />
<text x="268.5" y="471.55" font-size="7.4" text-anchor="end" fill="#333" font-weight="normal" stroke="#333" stroke-width="0.2" >15</text>
<line x1="272.3" y1="447.1" x2="275.5" y2="447.1" stroke="#1a1a1a" stroke-width="1.1" />
<text x="268.5" y="449.70000000000005" font-size="7.4" text-anchor="end" fill="#333" font-weight="normal" stroke="#333" stroke-width="0.2" >20</text>
<line x1="272.3" y1="425.25" x2="275.5" y2="425.25" stroke="#1a1a1a" stroke-width="1.1" />
<text x="268.5" y="427.85" font-size="7.4" text-anchor="end" fill="#333" font-weight="normal" stroke="#333" stroke-width="0.2" >25</text>
<line x1="275.5" y1="534.5" x2="438.75" y2="534.5" stroke="#1a1a1a" stroke-width="1.3" />
<line x1="302" y1="534.5" x2="302" y2="537.5" stroke="#1a1a1a" stroke-width="1.1" />
<line x1="357" y1="534.5" x2="357" y2="537.5" stroke="#1a1a1a" stroke-width="1.1" />
<line x1="411.25" y1="534.5" x2="411.25" y2="537.5" stroke="#1a1a1a" stroke-width="1.1" />
<line x1="292.5" y1="471.25" x2="292.5" y2="493.75" stroke="#3f6f9d" stroke-width="1.1" />
<line x1="292.5" y1="513.25" x2="292.5" y2="520.75" stroke="#3f6f9d" stroke-width="1.1" />
<line x1="289.0" y1="471.25" x2="296.0" y2="471.25" stroke="#3f6f9d" stroke-width="1.3" />
<line x1="289.0" y1="520.75" x2="296.0" y2="520.75" stroke="#3f6f9d" stroke-width="1.3" />
<rect x="285.75" y="493.75" width="13.50" height="19.50" fill="#7ea4c9" />
<line x1="285.75" y1="504.5" x2="299.25" y2="504.5" stroke="#3f6f9d" stroke-width="1.6" />
<line x1="312.6" y1="453.25" x2="312.6" y2="477" stroke="#cb2c52" stroke-width="1.1" />
<line x1="312.6" y1="507.5" x2="312.6" y2="511.75" stroke="#cb2c52" stroke-width="1.1" />
<line x1="309.1" y1="453.25" x2="316.1" y2="453.25" stroke="#cb2c52" stroke-width="1.3" />
<line x1="309.1" y1="511.75" x2="316.1" y2="511.75" stroke="#cb2c52" stroke-width="1.3" />
<rect x="305.725" y="477" width="13.75" height="30.50" fill="#e8849a" />
<line x1="305.725" y1="493" x2="319.475" y2="493" stroke="#cb2c52" stroke-width="1.6" />
<line x1="346.9" y1="450.5" x2="346.9" y2="501.75" stroke="#3f6f9d" stroke-width="1.1" />
<line x1="346.9" y1="511.75" x2="346.9" y2="518.25" stroke="#3f6f9d" stroke-width="1.1" />
<line x1="343.4" y1="450.5" x2="350.4" y2="450.5" stroke="#3f6f9d" stroke-width="1.3" />
<line x1="343.4" y1="518.25" x2="350.4" y2="518.25" stroke="#3f6f9d" stroke-width="1.3" />
<rect x="340.025" y="501.75" width="13.75" height="10.00" fill="#7ea4c9" />
<line x1="340.025" y1="507" x2="353.775" y2="507" stroke="#3f6f9d" stroke-width="1.6" />
<line x1="367.25" y1="450" x2="367.25" y2="481.75" stroke="#cb2c52" stroke-width="1.1" />
<line x1="367.25" y1="498" x2="367.25" y2="513.25" stroke="#cb2c52" stroke-width="1.1" />
<line x1="363.75" y1="450" x2="370.75" y2="450" stroke="#cb2c52" stroke-width="1.3" />
<line x1="363.75" y1="513.25" x2="370.75" y2="513.25" stroke="#cb2c52" stroke-width="1.3" />
<rect x="360.5" y="481.75" width="13.50" height="16.25" fill="#e8849a" />
<line x1="360.5" y1="496.75" x2="374.0" y2="496.75" stroke="#cb2c52" stroke-width="1.6" />
<line x1="401.25" y1="498" x2="401.25" y2="502.5" stroke="#3f6f9d" stroke-width="1.1" />
<line x1="401.25" y1="517" x2="401.25" y2="526.25" stroke="#3f6f9d" stroke-width="1.1" />
<line x1="397.75" y1="498" x2="404.75" y2="498" stroke="#3f6f9d" stroke-width="1.3" />
<line x1="397.75" y1="526.25" x2="404.75" y2="526.25" stroke="#3f6f9d" stroke-width="1.3" />
<rect x="394.5" y="502.5" width="13.50" height="14.50" fill="#7ea4c9" />
<line x1="394.5" y1="513" x2="408.0" y2="513" stroke="#3f6f9d" stroke-width="1.6" />
<line x1="421.9" y1="472" x2="421.9" y2="486.25" stroke="#cb2c52" stroke-width="1.1" />
<line x1="421.9" y1="507" x2="421.9" y2="522" stroke="#cb2c52" stroke-width="1.1" />
<line x1="418.4" y1="472" x2="425.4" y2="472" stroke="#cb2c52" stroke-width="1.3" />
<line x1="418.4" y1="522" x2="425.4" y2="522" stroke="#cb2c52" stroke-width="1.3" />
<rect x="415.025" y="486.25" width="13.75" height="20.75" fill="#e8849a" />
<line x1="415.025" y1="497" x2="428.775" y2="497" stroke="#cb2c52" stroke-width="1.6" />
<line x1="291.75" y1="430.75" x2="313" y2="430.75" stroke="#3a3a3a" stroke-width="1.1" />
<line x1="291.75" y1="428.15" x2="291.75" y2="433.35" stroke="#3a3a3a" stroke-width="1.1" />
<line x1="313" y1="428.15" x2="313" y2="433.35" stroke="#3a3a3a" stroke-width="1.1" />
<line x1="345.5" y1="430.75" x2="367.5" y2="430.75" stroke="#3a3a3a" stroke-width="1.1" />
<line x1="345.5" y1="428.15" x2="345.5" y2="433.35" stroke="#3a3a3a" stroke-width="1.1" />
<line x1="367.5" y1="428.15" x2="367.5" y2="433.35" stroke="#3a3a3a" stroke-width="1.1" />
<line x1="401.75" y1="430.75" x2="423" y2="430.75" stroke="#3a3a3a" stroke-width="1.1" />
<line x1="401.75" y1="428.15" x2="401.75" y2="433.35" stroke="#3a3a3a" stroke-width="1.1" />
<line x1="423" y1="428.15" x2="423" y2="433.35" stroke="#3a3a3a" stroke-width="1.1" />
<text x="302.2" y="422.6" font-size="7.4" text-anchor="middle" fill="#333" stroke="#333" stroke-width="0.28"><tspan font-style="italic">P</tspan> = .05</text>
<text x="356.5" y="430.40000000000003" font-size="7" text-anchor="middle" fill="#333" font-weight="normal" stroke="#333" stroke-width="0.1" >*</text>
<text x="412.4" y="430.40000000000003" font-size="7" text-anchor="middle" fill="#333" font-weight="normal" stroke="#333" stroke-width="0.1" >**</text>
<text x="302" y="548" font-size="7.4" text-anchor="middle" fill="#333" font-weight="normal" textLength="26.8" lengthAdjust="spacingAndGlyphs" stroke="#333" stroke-width="0.2" >Baseline</text>
<text x="356.9" y="548" font-size="7.4" text-anchor="middle" fill="#333" font-weight="normal" textLength="27.6" lengthAdjust="spacingAndGlyphs" stroke="#333" stroke-width="0.2" >PET-CT2</text>
<text x="411.5" y="548" font-size="7.4" text-anchor="middle" fill="#333" font-weight="normal" textLength="27.4" lengthAdjust="spacingAndGlyphs" stroke="#333" stroke-width="0.2" >PET-CT4</text>
<text transform="translate(250.2,479.6) rotate(-90)" x="0" y="0" font-size="9" text-anchor="middle" dominant-baseline="central" fill="#333" stroke="#333" stroke-width="0.35" textLength="22.3" lengthAdjust="spacingAndGlyphs">%Tregs</text>
<text x="8.8" y="578.8" font-size="13.6" font-weight="bold" fill="#111" stroke="#111" stroke-width="0.45">H</text>
<line x1="52.0" y1="584.5" x2="52.0" y2="696.6" stroke="#1a1a1a" stroke-width="1.3" />
<line x1="48.8" y1="696.6" x2="52.0" y2="696.6" stroke="#1a1a1a" stroke-width="1.1" />
<text x="44.8" y="699.2" font-size="7.4" text-anchor="end" fill="#333" font-weight="normal" stroke="#333" stroke-width="0.2" >0</text>
<line x1="48.8" y1="669.35" x2="52.0" y2="669.35" stroke="#1a1a1a" stroke-width="1.1" />
<text x="44.8" y="671.95" font-size="7.4" text-anchor="end" fill="#333" font-weight="normal" stroke="#333" stroke-width="0.2" >20</text>
<line x1="48.8" y1="642.1" x2="52.0" y2="642.1" stroke="#1a1a1a" stroke-width="1.1" />
<text x="44.8" y="644.7" font-size="7.4" text-anchor="end" fill="#333" font-weight="normal" stroke="#333" stroke-width="0.2" >40</text>
<line x1="48.8" y1="614.85" x2="52.0" y2="614.85" stroke="#1a1a1a" stroke-width="1.1" />
<text x="44.8" y="617.45" font-size="7.4" text-anchor="end" fill="#333" font-weight="normal" stroke="#333" stroke-width="0.2" >60</text>
<line x1="48.8" y1="587.6" x2="52.0" y2="587.6" stroke="#1a1a1a" stroke-width="1.1" />
<text x="44.8" y="590.2" font-size="7.4" text-anchor="end" fill="#333" font-weight="normal" stroke="#333" stroke-width="0.2" >80</text>
<line x1="52.0" y1="696.6" x2="216.25" y2="696.6" stroke="#1a1a1a" stroke-width="1.3" />
<line x1="79.25" y1="696.6" x2="79.25" y2="699.6" stroke="#1a1a1a" stroke-width="1.1" />
<line x1="134.25" y1="696.6" x2="134.25" y2="699.6" stroke="#1a1a1a" stroke-width="1.1" />
<line x1="188" y1="696.6" x2="188" y2="699.6" stroke="#1a1a1a" stroke-width="1.1" />
<line x1="69.1" y1="597" x2="69.1" y2="623" stroke="#3f6f9d" stroke-width="1.1" />
<line x1="69.1" y1="669.25" x2="69.1" y2="683.25" stroke="#3f6f9d" stroke-width="1.1" />
<line x1="65.6" y1="597" x2="72.6" y2="597" stroke="#3f6f9d" stroke-width="1.3" />
<line x1="65.6" y1="683.25" x2="72.6" y2="683.25" stroke="#3f6f9d" stroke-width="1.3" />
<rect x="62.449999999999996" y="623" width="13.30" height="46.25" fill="#7ea4c9" />
<line x1="62.449999999999996" y1="639.25" x2="75.75" y2="639.25" stroke="#3f6f9d" stroke-width="1.6" />
<line x1="89.6" y1="602" x2="89.6" y2="627" stroke="#cb2c52" stroke-width="1.1" />
<line x1="89.6" y1="662" x2="89.6" y2="693.25" stroke="#cb2c52" stroke-width="1.1" />
<line x1="86.1" y1="602" x2="93.1" y2="602" stroke="#cb2c52" stroke-width="1.3" />
<line x1="86.1" y1="693.25" x2="93.1" y2="693.25" stroke="#cb2c52" stroke-width="1.3" />
<rect x="82.94999999999999" y="627" width="13.30" height="35.00" fill="#e8849a" />
<line x1="82.94999999999999" y1="639.5" x2="96.25" y2="639.5" stroke="#cb2c52" stroke-width="1.6" />
<line x1="123.75" y1="598.75" x2="123.75" y2="611.25" stroke="#3f6f9d" stroke-width="1.1" />
<line x1="123.75" y1="660.5" x2="123.75" y2="693" stroke="#3f6f9d" stroke-width="1.1" />
<line x1="120.25" y1="598.75" x2="127.25" y2="598.75" stroke="#3f6f9d" stroke-width="1.3" />
<line x1="120.25" y1="693" x2="127.25" y2="693" stroke="#3f6f9d" stroke-width="1.3" />
<rect x="117.0" y="611.25" width="13.50" height="49.25" fill="#7ea4c9" />
<line x1="117.0" y1="638" x2="130.5" y2="638" stroke="#3f6f9d" stroke-width="1.6" />
<line x1="144.1" y1="637" x2="144.1" y2="644.25" stroke="#cb2c52" stroke-width="1.1" />
<line x1="144.1" y1="671.25" x2="144.1" y2="677.5" stroke="#cb2c52" stroke-width="1.1" />
<line x1="140.6" y1="637" x2="147.6" y2="637" stroke="#cb2c52" stroke-width="1.3" />
<line x1="140.6" y1="677.5" x2="147.6" y2="677.5" stroke="#cb2c52" stroke-width="1.3" />
<rect x="137.45" y="644.25" width="13.30" height="27.00" fill="#e8849a" />
<line x1="137.45" y1="659.25" x2="150.75" y2="659.25" stroke="#cb2c52" stroke-width="1.6" />
<line x1="178.4" y1="595.5" x2="178.4" y2="612" stroke="#3f6f9d" stroke-width="1.1" />
<line x1="178.4" y1="668" x2="178.4" y2="687" stroke="#3f6f9d" stroke-width="1.1" />
<line x1="174.9" y1="595.5" x2="181.9" y2="595.5" stroke="#3f6f9d" stroke-width="1.3" />
<line x1="174.9" y1="687" x2="181.9" y2="687" stroke="#3f6f9d" stroke-width="1.3" />
<rect x="171.75" y="612" width="13.30" height="56.00" fill="#7ea4c9" />
<line x1="171.75" y1="648.75" x2="185.05" y2="648.75" stroke="#3f6f9d" stroke-width="1.6" />
<line x1="199.1" y1="604.5" x2="199.1" y2="619" stroke="#cb2c52" stroke-width="1.1" />
<line x1="199.1" y1="667" x2="199.1" y2="676.25" stroke="#cb2c52" stroke-width="1.1" />
<line x1="195.6" y1="604.5" x2="202.6" y2="604.5" stroke="#cb2c52" stroke-width="1.3" />
<line x1="195.6" y1="676.25" x2="202.6" y2="676.25" stroke="#cb2c52" stroke-width="1.3" />
<rect x="192.45" y="619" width="13.30" height="48.00" fill="#e8849a" />
<line x1="192.45" y1="637.5" x2="205.75" y2="637.5" stroke="#cb2c52" stroke-width="1.6" />
<line x1="124.25" y1="588" x2="145.5" y2="588" stroke="#3a3a3a" stroke-width="1.1" />
<line x1="124.25" y1="585.4" x2="124.25" y2="590.6" stroke="#3a3a3a" stroke-width="1.1" />
<line x1="145.5" y1="585.4" x2="145.5" y2="590.6" stroke="#3a3a3a" stroke-width="1.1" />
<text x="134.5" y="588.3000000000001" font-size="7" text-anchor="middle" fill="#333" font-weight="normal" stroke="#333" stroke-width="0.1" >*</text>
<text x="78.9" y="710.2" font-size="7.4" text-anchor="middle" fill="#333" font-weight="normal" textLength="26.8" lengthAdjust="spacingAndGlyphs" stroke="#333" stroke-width="0.2" >Baseline</text>
<text x="133.9" y="710.2" font-size="7.4" text-anchor="middle" fill="#333" font-weight="normal" textLength="27.6" lengthAdjust="spacingAndGlyphs" stroke="#333" stroke-width="0.2" >PET-CT2</text>
<text x="188.4" y="710.2" font-size="7.4" text-anchor="middle" fill="#333" font-weight="normal" textLength="27.6" lengthAdjust="spacingAndGlyphs" stroke="#333" stroke-width="0.2" >PET-CT4</text>
<text transform="translate(26.0,642) rotate(-90)" x="0" y="0" font-size="8.7" text-anchor="middle" dominant-baseline="central" fill="#333" stroke="#333" stroke-width="0.35" textLength="48" lengthAdjust="spacingAndGlyphs">%CD62L+ Tregs</text>
<text x="235.6" y="578.6" font-size="13.6" font-weight="bold" fill="#111" stroke="#111" stroke-width="0.45">I</text>
<line x1="283" y1="584.5" x2="283" y2="696.5" stroke="#1a1a1a" stroke-width="1.3" />
<line x1="279.8" y1="696.5" x2="283" y2="696.5" stroke="#1a1a1a" stroke-width="1.1" />
<text x="275.8" y="699.1" font-size="7.4" text-anchor="end" fill="#333" font-weight="normal" stroke="#333" stroke-width="0.2" >0</text>
<line x1="279.8" y1="674.7" x2="283" y2="674.7" stroke="#1a1a1a" stroke-width="1.1" />
<text x="275.8" y="677.3000000000001" font-size="7.4" text-anchor="end" fill="#333" font-weight="normal" stroke="#333" stroke-width="0.2" >20</text>
<line x1="279.8" y1="652.9" x2="283" y2="652.9" stroke="#1a1a1a" stroke-width="1.1" />
<text x="275.8" y="655.5" font-size="7.4" text-anchor="end" fill="#333" font-weight="normal" stroke="#333" stroke-width="0.2" >40</text>
<line x1="279.8" y1="631.1" x2="283" y2="631.1" stroke="#1a1a1a" stroke-width="1.1" />
<text x="275.8" y="633.7" font-size="7.4" text-anchor="end" fill="#333" font-weight="normal" stroke="#333" stroke-width="0.2" >60</text>
<line x1="279.8" y1="609.3" x2="283" y2="609.3" stroke="#1a1a1a" stroke-width="1.1" />
<text x="275.8" y="611.9" font-size="7.4" text-anchor="end" fill="#333" font-weight="normal" stroke="#333" stroke-width="0.2" >80</text>
<line x1="279.8" y1="587.5" x2="283" y2="587.5" stroke="#1a1a1a" stroke-width="1.1" />
<text x="275.8" y="590.1" font-size="7.4" text-anchor="end" fill="#333" font-weight="normal" stroke="#333" stroke-width="0.2" >100</text>
<line x1="283" y1="696.5" x2="447" y2="696.5" stroke="#1a1a1a" stroke-width="1.3" />
<line x1="303.65" y1="696.5" x2="303.65" y2="699.5" stroke="#1a1a1a" stroke-width="1.1" />
<line x1="344.5" y1="696.5" x2="344.5" y2="699.5" stroke="#1a1a1a" stroke-width="1.1" />
<line x1="385.5" y1="696.5" x2="385.5" y2="699.5" stroke="#1a1a1a" stroke-width="1.1" />
<line x1="426.25" y1="696.5" x2="426.25" y2="699.5" stroke="#1a1a1a" stroke-width="1.1" />
<line x1="345.75" y1="592.5" x2="426.25" y2="592.5" stroke="#555" stroke-width="1.2" />
<line x1="345.75" y1="589.7" x2="345.75" y2="595.3" stroke="#555" stroke-width="1.2" />
<line x1="426.25" y1="589.7" x2="426.25" y2="595.3" stroke="#555" stroke-width="1.2" />
<text x="386.2" y="593.1" font-size="7" text-anchor="middle" fill="#333" font-weight="normal" stroke="#333" stroke-width="0.1" >*</text>
<line x1="303.65" y1="607.8" x2="344.5" y2="672.7" stroke="#1f5a8e" stroke-width="1.15" />
<line x1="303.65" y1="624.2" x2="344.5" y2="612.3" stroke="#1f5a8e" stroke-width="1.15" />
<line x1="303.65" y1="632.9" x2="344.5" y2="686.8" stroke="#1f5a8e" stroke-width="1.15" />
<line x1="303.65" y1="634.6" x2="344.5" y2="645.2" stroke="#1f5a8e" stroke-width="1.15" />
<line x1="303.65" y1="656.5" x2="344.5" y2="694.8" stroke="#1f5a8e" stroke-width="1.15" />
<line x1="303.65" y1="668.1" x2="344.5" y2="658.8" stroke="#1f5a8e" stroke-width="1.15" />
<line x1="303.65" y1="668.1" x2="344.5" y2="694.8" stroke="#1f5a8e" stroke-width="1.15" />
<line x1="303.65" y1="668.1" x2="344.5" y2="626.5" stroke="#1f5a8e" stroke-width="1.15" />
<line x1="303.65" y1="673.6" x2="344.5" y2="623.7" stroke="#1f5a8e" stroke-width="1.15" />
<line x1="303.65" y1="676" x2="344.5" y2="618.5" stroke="#1f5a8e" stroke-width="1.15" />
<line x1="303.65" y1="680.1" x2="344.5" y2="668.9" stroke="#1f5a8e" stroke-width="1.15" />
<line x1="303.65" y1="690.3" x2="344.5" y2="656.5" stroke="#1f5a8e" stroke-width="1.15" />
<line x1="303.65" y1="690.3" x2="344.5" y2="623.7" stroke="#1f5a8e" stroke-width="1.15" />
<line x1="303.65" y1="695.1" x2="344.5" y2="686.8" stroke="#1f5a8e" stroke-width="1.15" />
<circle cx="303.65" cy="607.8" r="1.75" fill="#0b0b0b"/>
<circle cx="303.65" cy="613.6" r="1.75" fill="#0b0b0b"/>
<circle cx="303.65" cy="624.2" r="1.75" fill="#0b0b0b"/>
<circle cx="303.65" cy="632.9" r="1.75" fill="#0b0b0b"/>
<circle cx="303.65" cy="634.6" r="1.75" fill="#0b0b0b"/>
<circle cx="303.65" cy="656.5" r="1.75" fill="#0b0b0b"/>
<circle cx="303.65" cy="668.1" r="1.75" fill="#0b0b0b"/>
<circle cx="303.65" cy="673.6" r="1.75" fill="#0b0b0b"/>
<circle cx="303.65" cy="676" r="1.75" fill="#0b0b0b"/>
<circle cx="303.65" cy="680.1" r="1.75" fill="#0b0b0b"/>
<circle cx="303.65" cy="690.3" r="1.75" fill="#0b0b0b"/>
<circle cx="303.65" cy="695.1" r="1.75" fill="#0b0b0b"/>
<circle cx="344.5" cy="612.3" r="1.75" fill="#0b0b0b"/>
<circle cx="344.5" cy="618.5" r="1.75" fill="#0b0b0b"/>
<circle cx="344.5" cy="623.7" r="1.75" fill="#0b0b0b"/>
<circle cx="344.5" cy="626.5" r="1.75" fill="#0b0b0b"/>
<circle cx="344.5" cy="645.2" r="1.75" fill="#0b0b0b"/>
<circle cx="344.5" cy="656.5" r="1.75" fill="#0b0b0b"/>
<circle cx="344.5" cy="658.8" r="1.75" fill="#0b0b0b"/>
<circle cx="344.5" cy="668.9" r="1.75" fill="#0b0b0b"/>
<circle cx="344.5" cy="672.7" r="1.75" fill="#0b0b0b"/>
<circle cx="344.5" cy="686.8" r="1.75" fill="#0b0b0b"/>
<circle cx="344.5" cy="694.8" r="1.75" fill="#0b0b0b"/>
<line x1="385.6" y1="618" x2="426.4" y2="685.3" stroke="#c81a40" stroke-width="1.15" />
<line x1="385.6" y1="622.9" x2="426.4" y2="659.2" stroke="#c81a40" stroke-width="1.15" />
<line x1="385.6" y1="630.3" x2="426.4" y2="667.8" stroke="#c81a40" stroke-width="1.15" />
<line x1="385.6" y1="632.2" x2="426.4" y2="683.8" stroke="#c81a40" stroke-width="1.15" />
<line x1="385.6" y1="634" x2="426.4" y2="687.5" stroke="#c81a40" stroke-width="1.15" />
<line x1="385.6" y1="638.9" x2="426.4" y2="669.1" stroke="#c81a40" stroke-width="1.15" />
<line x1="385.6" y1="642.6" x2="426.4" y2="692.5" stroke="#c81a40" stroke-width="1.15" />
<line x1="385.6" y1="645.1" x2="426.4" y2="680.8" stroke="#c81a40" stroke-width="1.15" />
<line x1="385.6" y1="662.3" x2="426.4" y2="666.6" stroke="#c81a40" stroke-width="1.15" />
<line x1="385.6" y1="662.3" x2="426.4" y2="685.3" stroke="#c81a40" stroke-width="1.15" />
<line x1="385.6" y1="683.8" x2="426.4" y2="683.8" stroke="#c81a40" stroke-width="1.15" />
<line x1="385.6" y1="688.8" x2="426.4" y2="687.5" stroke="#c81a40" stroke-width="1.15" />
<line x1="385.6" y1="690.6" x2="426.4" y2="682" stroke="#c81a40" stroke-width="1.15" />
<line x1="385.6" y1="693.7" x2="426.4" y2="693.7" stroke="#c81a40" stroke-width="1.15" />
<line x1="385.6" y1="696.2" x2="426.4" y2="680.8" stroke="#c81a40" stroke-width="1.15" />
<circle cx="385.6" cy="618" r="1.75" fill="#0b0b0b"/>
<circle cx="385.6" cy="622.9" r="1.75" fill="#0b0b0b"/>
<circle cx="385.6" cy="630.3" r="1.75" fill="#0b0b0b"/>
<circle cx="385.6" cy="632.2" r="1.75" fill="#0b0b0b"/>
<circle cx="385.6" cy="634" r="1.75" fill="#0b0b0b"/>
<circle cx="385.6" cy="638.9" r="1.75" fill="#0b0b0b"/>
<circle cx="385.6" cy="642.6" r="1.75" fill="#0b0b0b"/>
<circle cx="385.6" cy="645.1" r="1.75" fill="#0b0b0b"/>
<circle cx="385.6" cy="662.3" r="1.75" fill="#0b0b0b"/>
<circle cx="385.6" cy="683.8" r="1.75" fill="#0b0b0b"/>
<circle cx="385.6" cy="688.8" r="1.75" fill="#0b0b0b"/>
<circle cx="385.6" cy="690.6" r="1.75" fill="#0b0b0b"/>
<circle cx="385.6" cy="693.7" r="1.75" fill="#0b0b0b"/>
<circle cx="385.6" cy="696.2" r="1.75" fill="#0b0b0b"/>
<circle cx="426.4" cy="659.2" r="1.75" fill="#0b0b0b"/>
<circle cx="426.4" cy="666.6" r="1.75" fill="#0b0b0b"/>
<circle cx="426.4" cy="667.8" r="1.75" fill="#0b0b0b"/>
<circle cx="426.4" cy="669.1" r="1.75" fill="#0b0b0b"/>
<circle cx="426.4" cy="680.8" r="1.75" fill="#0b0b0b"/>
<circle cx="426.4" cy="683.8" r="1.75" fill="#0b0b0b"/>
<circle cx="426.4" cy="685.3" r="1.75" fill="#0b0b0b"/>
<circle cx="426.4" cy="687.5" r="1.75" fill="#0b0b0b"/>
<circle cx="426.4" cy="692.5" r="1.75" fill="#0b0b0b"/>
<circle cx="426.4" cy="693.7" r="1.75" fill="#0b0b0b"/>
<rect x="457.7" y="631" width="6.90" height="7.00" fill="#1d5290" />
<rect x="457.7" y="642.6" width="6.90" height="6.90" fill="#c8102e" />
<text x="468.5" y="637.3" font-size="7.6" text-anchor="start" fill="#333" font-weight="normal" textLength="43.5" lengthAdjust="spacingAndGlyphs" stroke="#333" stroke-width="0.2" >Sustained CR</text>
<text x="468.5" y="648.7" font-size="7.6" text-anchor="start" fill="#333" font-weight="normal" textLength="22.3" lengthAdjust="spacingAndGlyphs" stroke="#333" stroke-width="0.2" >PR/PD</text>
<text x="303.65" y="710" font-size="7.4" text-anchor="middle" fill="#333" font-weight="normal" textLength="26.6" lengthAdjust="spacingAndGlyphs" stroke="#333" stroke-width="0.2" >Baseline</text>
<text x="344.5" y="710" font-size="7.4" text-anchor="middle" fill="#333" font-weight="normal" textLength="27.6" lengthAdjust="spacingAndGlyphs" stroke="#333" stroke-width="0.2" >PET-CT2</text>
<text x="385.5" y="710" font-size="7.4" text-anchor="middle" fill="#333" font-weight="normal" textLength="26.6" lengthAdjust="spacingAndGlyphs" stroke="#333" stroke-width="0.2" >Baseline</text>
<text x="426.25" y="710" font-size="7.4" text-anchor="middle" fill="#333" font-weight="normal" textLength="27.6" lengthAdjust="spacingAndGlyphs" stroke="#333" stroke-width="0.2" >PET-CT2</text>
<text x="324.6" y="721.2" font-size="7.4" text-anchor="middle" fill="#333" font-weight="normal" textLength="43.8" lengthAdjust="spacingAndGlyphs" stroke="#333" stroke-width="0.2" >Sustained CR</text>
<text x="405.6" y="721.2" font-size="7.4" text-anchor="middle" fill="#333" font-weight="normal" textLength="22" lengthAdjust="spacingAndGlyphs" stroke="#333" stroke-width="0.2" >PR/PD</text>
<text transform="translate(254.1,642.3) rotate(-90)" x="0" y="0" font-size="9.5" text-anchor="middle" dominant-baseline="central" fill="#333" stroke="#333" stroke-width="0.35" textLength="86.6" lengthAdjust="spacingAndGlyphs">% CD62L+ naive CD8 T cells</text>
<rect x="0.5" y="0.5" width="519" height="730" fill="none" stroke="#444" stroke-width="1.2"/>
</svg></body></html>
